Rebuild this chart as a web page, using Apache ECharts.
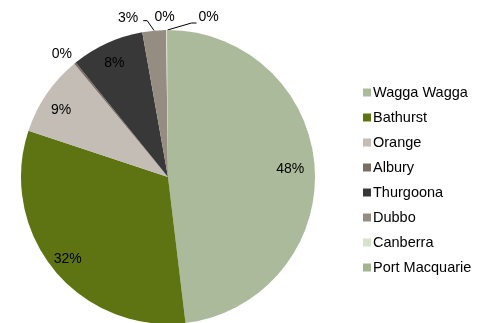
<!DOCTYPE html>
<html>
<head>
<meta charset="utf-8">
<script src="https://cdn.jsdelivr.net/npm/echarts@6/dist/echarts.min.js"></script>
<style>
  html, body { margin: 0; padding: 0; background: #ffffff; }
  #chart { width: 483px; height: 323px; }
</style>
</head>
<body>
<div id="chart"></div>
<script>
// Share of total by location (per cent)
const categories = ['Wagga Wagga', 'Bathurst', 'Orange', 'Albury', 'Thurgoona', 'Dubbo', 'Canberra', 'Port Macquarie'];
const shares = [48.1, 32.0, 8.9, 0.2, 8.0, 2.6, 0.1, 0.1];
const sliceColors = ['#AABA9A', '#5E7412', '#C3BDB5', '#786E64', '#383838', '#968D82', '#D7E2CB', '#A3B58E'];

const FONT = '"Liberation Sans", Arial, Helvetica, sans-serif';
const CENTER = [168, 177];
const RADIUS = 147;
const INSIDE_MIN = 5; // slices at least this big carry their label inside

// Small nudges for the in-slice labels
const insideLabelOffset = {
  'Wagga Wagga': [-7, 0],
  'Orange': [0, 6],
  'Thurgoona': [0, 4]
};

// Outside labels, placed relative to the point where the slice meets the rim
const outsideLabelPlacement = {
  'Albury':         { dx: -3,  dy: -9,    align: 'right' },
  'Dubbo':          { dx: -16, dy: -13,   align: 'right', bend: [-7, -10], end: [-11, -10] },
  'Canberra':       { dx: -2,  dy: -12.5, align: 'center' },
  'Port Macquarie': { dx: 31,  dy: -12.5, align: 'left',  bend: [24, -7],  end: [29, -7] }
};

const pctText = p => Math.round(p.percent) + '%';
const labelFont = { fontFamily: FONT, fontSize: 14, color: '#000000' };

const chart = echarts.init(document.getElementById('chart'), null, { renderer: 'canvas' });

chart.setOption({
  animation: false,
  backgroundColor: '#ffffff',
  legend: {
    orient: 'vertical',
    left: 358,
    top: 80,
    data: categories,
    icon: 'rect',
    itemWidth: 8,
    itemHeight: 8,
    itemGap: 10,
    textStyle: { fontFamily: FONT, fontSize: 14.5, color: '#000000', padding: [0, 0, 0, -3] },
    selectedMode: false
  },
  series: [
    {
      // the pie itself, with leader-line labels for the thin slices
      type: 'pie',
      center: CENTER,
      radius: RADIUS,
      startAngle: 90,
      clockwise: true,
      avoidLabelOverlap: false,
      emphasis: { scale: false },
      label: Object.assign({ position: 'outside', formatter: pctText }, labelFont),
      labelLine: { length: 10, length2: 8, smooth: false, lineStyle: { color: '#000000', width: 1 } },
      labelLayout: function (params) {
        const name = categories[params.dataIndex];
        const place = outsideLabelPlacement[name];
        const pts = params.labelLinePoints;
        if (!place || !pts) return {};
        const p0 = pts[0];
        const out = {
          x: p0[0] + place.dx,
          y: p0[1] + place.dy,
          align: place.align,
          verticalAlign: 'middle'
        };
        if (place.bend) {
          out.labelLinePoints = [
            [p0[0], p0[1]],
            [p0[0] + place.bend[0], p0[1] + place.bend[1]],
            [p0[0] + place.end[0], p0[1] + place.end[1]]
          ];
        }
        return out;
      },
      data: categories.map((name, i) => {
        const small = shares[i] < INSIDE_MIN;
        const place = outsideLabelPlacement[name];
        return {
          name: name,
          value: shares[i],
          itemStyle: { color: sliceColors[i] },
          label: { show: small },
          labelLine: {
            show: small,
            lineStyle: { opacity: place && place.bend ? 1 : 0 }
          }
        };
      })
    },
    {
      // transparent ring that carries the in-slice labels near the rim
      type: 'pie',
      center: CENTER,
      radius: [RADIUS * 0.72, RADIUS],
      startAngle: 90,
      clockwise: true,
      silent: true,
      avoidLabelOverlap: false,
      itemStyle: { color: 'rgba(0,0,0,0)' },
      label: Object.assign({ position: 'inside', formatter: pctText }, labelFont),
      labelLine: { show: false },
      data: categories.map((name, i) => ({
        name: name,
        value: shares[i],
        label: {
          show: shares[i] >= INSIDE_MIN,
          offset: insideLabelOffset[name] || [0, 0]
        }
      }))
    }
  ]
});
</script>
</body>
</html>
